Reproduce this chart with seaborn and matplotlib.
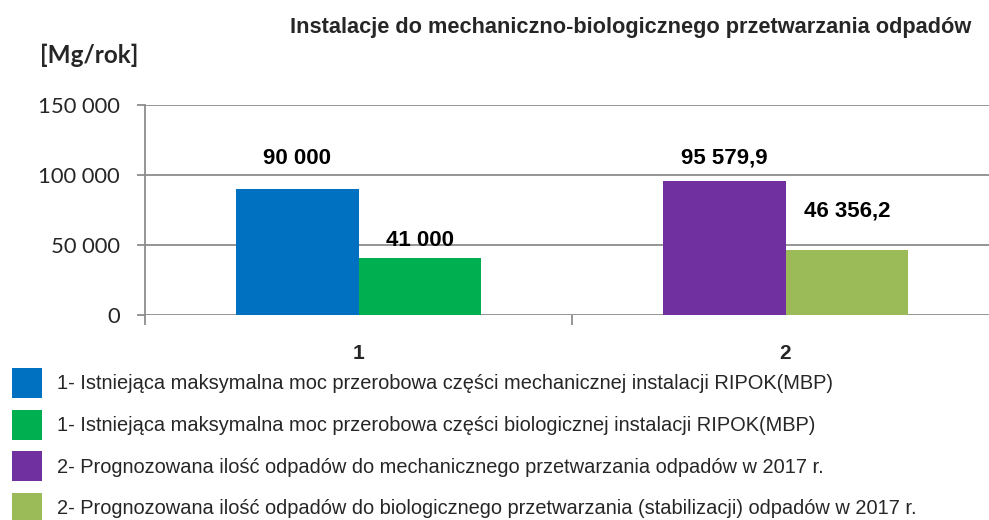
import matplotlib
matplotlib.use("Agg")
import matplotlib.pyplot as plt
import pandas as pd
import seaborn as sns
from matplotlib.patches import Patch
from matplotlib.ticker import FuncFormatter, FixedLocator

sns.set_theme(style="white")
plt.rcParams["font.family"] = ["Liberation Sans", "DejaVu Sans"]

# dane z wykresu
kategorie = ["1", "1", "2", "2"]
czesc = ["mechaniczna", "biologiczna", "mechaniczna", "biologiczna"]
wartosci = [90000, 41000, 95579.9, 46356.2]
etykiety = ["90 000", "41 000", "95 579,9", "46 356,2"]
opisy_legendy = [
    "1- Istniejąca maksymalna moc przerobowa części mechanicznej instalacji RIPOK(MBP)",
    "1- Istniejąca maksymalna moc przerobowa części biologicznej instalacji RIPOK(MBP)",
    "2- Prognozowana ilość odpadów do mechanicznego przetwarzania odpadów w 2017 r.",
    "2- Prognozowana ilość odpadów do biologicznego przetwarzania (stabilizacji) odpadów w 2017 r.",
]
y_ticks = [0, 50000, 100000, 150000]

kolory = ["#0070C0", "#00B050", "#7030A0", "#9BBB59"]
# przesuniecia etykiet nad słupkami (pt)
przesuniecia = [22, 12, 17, 28]

NARROW = ["Liberation Sans Narrow", "Liberation Sans", "DejaVu Sans"]
GRID = "#8c8c8c"

df = pd.DataFrame({"kategoria": kategorie, "czesc": czesc, "wartosc": wartosci})

fig = plt.figure(figsize=(9.89, 5.2), dpi=100)
ax = fig.add_axes([145 / 989, 205 / 520, 854 / 989, 210 / 520])

sns.barplot(
    data=df, x="kategoria", y="wartosc", hue="czesc",
    hue_order=["mechaniczna", "biologiczna"], width=0.575,
    saturation=1, legend=False, ax=ax, errorbar=None,
)

# kolory i etykiety słupków
for j, cont in enumerate(ax.containers):
    for i, bar in enumerate(cont):
        k = i * 2 + j
        bar.set_facecolor(kolory[k])
        bar.set_edgecolor("none")
        ax.annotate(
            etykiety[k],
            xy=(bar.get_x() + bar.get_width() / 2, bar.get_height()),
            xytext=(0, przesuniecia[k]), textcoords="offset points",
            ha="center", va="center", fontsize=16, fontweight="bold",
            family=NARROW, color="black",
        )

ax.set_xlim(-0.5, 1.5)
ax.set_ylim(0, 150000)
ax.set_yticks(y_ticks)
ax.yaxis.set_major_formatter(FuncFormatter(lambda v, p: f"{int(v):,}".replace(",", " ")))
ax.grid(axis="y", color=GRID, linewidth=1.3)
ax.set_axisbelow(True)
for s in ["top", "right", "bottom"]:
    ax.spines[s].set_visible(False)
ax.spines["left"].set_color(GRID)
ax.spines["left"].set_linewidth(1.3)

ax.tick_params(axis="y", length=6, width=1.3, color=GRID, pad=12,
               labelsize=15.8, left=True)
for t in ax.get_yticklabels():
    t.set_family(["Lato", "DejaVu Sans"])

ax.xaxis.set_minor_locator(FixedLocator([-0.5, 0.5, 1.5]))
ax.tick_params(axis="x", which="minor", length=7, width=1.3, color=GRID, bottom=True)
ax.tick_params(axis="x", which="major", length=0, pad=21, labelsize=15)
for t in ax.get_xticklabels():
    t.set_fontweight("bold")
ax.set_xlabel("")
ax.set_ylabel("")

fig.text(631 / 989, 1 - 27 / 520, "Instalacje do mechaniczno-biologicznego przetwarzania odpadów",
         ha="center", va="center", fontsize=15.7, fontweight="bold", family=NARROW)
fig.text(89 / 989, 1 - 55 / 520, "[Mg/rok]", ha="center", va="center",
         fontsize=17.5, fontweight="bold", family=["Lato", "DejaVu Sans"])

uchwyty = [Patch(facecolor=c, edgecolor="none") for c in kolory]
fig.legend(
    uchwyty, opisy_legendy, loc="upper left", bbox_to_anchor=(12 / 989, 1 - 368 / 520),
    frameon=False, fontsize=14.4, handlelength=1.5, handleheight=1.93,
    handletextpad=0.75, labelspacing=0.58, borderpad=0, borderaxespad=0,
)

fig.savefig("out.png", dpi=100)
